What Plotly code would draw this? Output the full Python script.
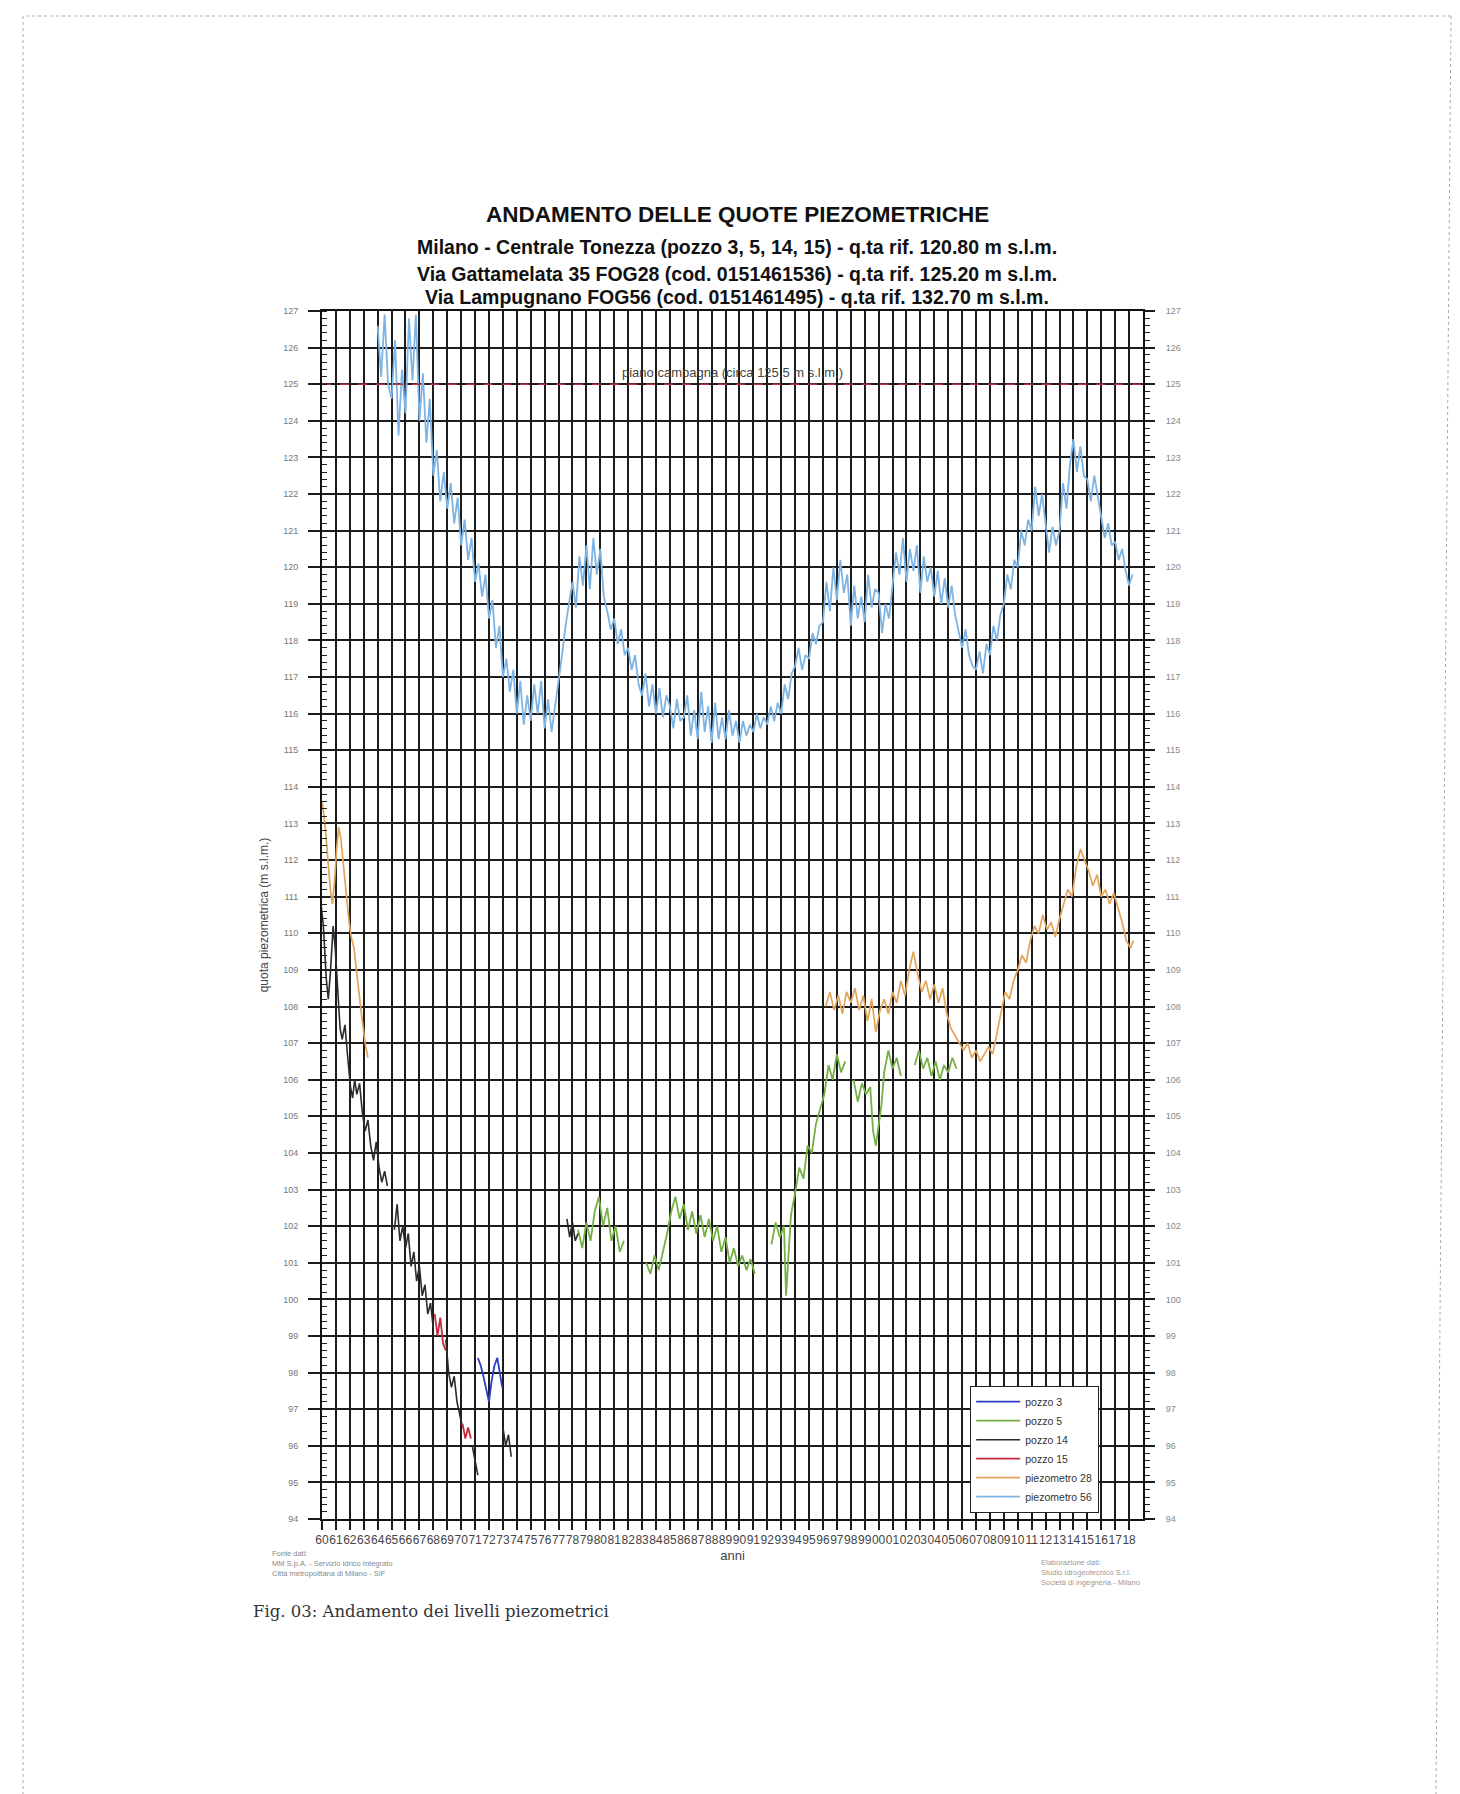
import plotly.graph_objects as go

# ---------------------------------------------------------------- data
YEARS = list(range(1960, 2019))
YEAR_LABELS = [f"{y % 100:02d}" for y in YEARS]
X_RANGE = [1960, 2019]
Y_RANGE = [94, 127]
PIANO_CAMPAGNA = 125.0

# piezometro 56 (FOG56), quarterly readings from 1964
P56_START = 1964.0
P56_STEP = 0.25
P56_LEVEL = [
    126.6, 125.2, 126.9, 125.0,  124.6, 126.2, 123.6, 125.4,
    124.2, 126.8, 125.1, 126.9,  124.0, 125.3, 123.4, 124.6,
    122.5, 123.2, 121.8, 122.6,  121.6, 122.3, 121.2, 121.9,
    120.6, 121.3, 120.2, 120.8,  119.6, 120.1, 119.2, 119.8,
    118.6, 119.1, 117.8, 118.4,  117.0, 117.5, 116.6, 117.2,
    116.0, 116.9, 115.7, 116.5,  115.8, 116.8, 116.0, 116.9,
    115.6, 116.4, 115.5, 116.2,  116.8, 117.6, 118.4, 119.0,
    119.6, 118.9, 120.3, 119.5,  120.6, 119.4, 120.8, 119.8,
    120.5, 119.2, 118.8, 118.3,  118.6, 117.9, 118.3, 117.6,
    117.8, 117.2, 117.6, 116.8,  116.5, 117.1, 116.2, 116.8,
    116.0, 116.7, 115.9, 116.5,  116.2, 115.6, 116.4, 115.8,
    115.9, 116.5, 115.4, 116.1,  115.3, 116.6, 115.5, 116.2,
    115.2, 116.3, 115.3, 115.9,  115.3, 116.1, 115.4, 115.8,
    115.2, 115.8, 115.4, 115.7,  115.5, 116.0, 115.6, 115.9,
    115.7, 116.2, 115.8, 116.3,  116.0, 116.8, 116.4, 117.1,
    117.3, 117.8, 117.2, 117.6,  117.5, 118.2, 117.9, 118.4,
    118.5, 119.6, 118.8, 120.0,  119.1, 120.2, 119.3, 119.8,
    118.4, 119.5, 118.6, 119.2,  118.5, 119.8, 118.9, 119.4,
    119.3, 118.2, 119.0, 118.6,  119.5, 120.4, 119.8, 120.8,
    119.6, 120.5, 119.9, 120.6,  119.3, 120.3, 119.6, 120.0,
    119.2, 119.9, 119.0, 119.7,  118.9, 119.5, 118.7, 118.2,
    117.8, 118.3, 117.6, 117.3,  117.2, 117.7, 117.1, 117.9,
    117.6, 118.4, 118.0, 118.7,  119.0, 119.8, 119.4, 120.2,
    120.0, 121.0, 120.6, 121.3,  121.0, 122.2, 121.4, 122.0,
    121.2, 120.4, 121.1, 120.6,  121.0, 122.3, 121.6, 122.8,
    123.5, 122.6, 123.3, 122.5,  122.4, 121.8, 122.5, 121.9,
    121.3, 120.8, 121.2, 120.6,  120.7, 120.2, 120.5, 119.9,
    119.5, 119.8,
]

# piezometro 28 (FOG28)
P28_YEAR = [
    1960.0, 1960.15, 1960.3, 1960.45, 1960.6, 1960.75, 1960.9, 1961.05,
    1961.2, 1961.35, 1961.5, 1961.65, 1961.8, 1961.95, 1962.1, 1962.3,
    1962.5, 1962.7, 1962.9, 1963.1, 1963.3, None,
    1996.2, 1996.5, 1996.8, 1997.1, 1997.4, 1997.7, 1998.0, 1998.3,
    1998.6, 1998.9, 1999.2, 1999.5, 1999.8, 2000.1, 2000.4, 2000.7,
    2001.0, 2001.3, 2001.6, 2001.9, 2002.2, 2002.5, 2002.8, 2003.1,
    2003.4, 2003.7, 2004.0, 2004.3, 2004.6, 2004.9, 2005.2, 2005.5,
    2005.8, 2006.1, 2006.4, 2006.7, 2007.0, 2007.3, 2007.6, 2007.9,
    2008.2, 2008.5, 2008.8, 2009.1, 2009.4, 2009.7, 2010.0, 2010.3,
    2010.6, 2010.9, 2011.2, 2011.5, 2011.8, 2012.1, 2012.4, 2012.7,
    2013.0, 2013.3, 2013.6, 2013.9, 2014.2, 2014.5, 2014.8, 2015.1,
    2015.4, 2015.7, 2016.0, 2016.3, 2016.6, 2016.9, 2017.2, 2017.5,
    2017.8, 2018.1, 2018.3,
]
P28_LEVEL = [
    113.6, 113.2, 112.6, 111.9, 111.2, 110.8, 111.4, 112.3,
    112.9, 112.6, 112.0, 111.4, 110.8, 110.3, 109.9, 109.6,
    108.9, 108.2, 107.6, 107.0, 106.6, None,
    108.0, 108.4, 107.9, 108.3, 107.8, 108.4, 108.1, 108.5,
    107.9, 108.3, 107.6, 108.2, 107.3, 107.9, 108.2, 107.8,
    108.4, 108.1, 108.7, 108.3, 109.0, 109.5, 108.9, 108.4,
    108.7, 108.2, 108.6, 108.1, 108.5, 107.8, 107.4, 107.2,
    107.0, 106.8, 107.0, 106.6, 106.8, 106.5, 106.7, 106.9,
    106.7, 107.3, 107.9, 108.4, 108.2, 108.7, 109.0, 109.4,
    109.2, 109.8, 110.2, 110.0, 110.5, 110.1, 110.3, 109.9,
    110.4, 110.8, 111.2, 111.0, 111.8, 112.3, 112.0, 111.7,
    111.3, 111.6, 111.0, 111.2, 110.8, 111.1, 110.7, 110.3,
    109.8, 109.6, 109.8,
]

# pozzo 14
POZZO14_YEAR = [
    1959.9, 1960.1, 1960.3, 1960.45, 1960.6, 1960.8, 1960.95, 1961.1,
    1961.3, 1961.45, 1961.65, 1961.85, 1962.05, 1962.2, 1962.35, 1962.5,
    1962.7, 1962.9, 1963.1, 1963.3, 1963.5, 1963.7, 1963.9, 1964.1,
    1964.3, 1964.5, 1964.7, None,
    1965.2, 1965.4, 1965.6, 1965.8, 1966.0, 1966.2, 1966.4, 1966.6,
    1966.8, 1967.0, 1967.2, 1967.4, 1967.6, 1967.8, 1968.0, None,
    1968.9, 1969.1, 1969.3, 1969.5, 1969.7, 1969.9, 1970.1, None,
    1970.8, 1971.0, 1971.2, None,
    1973.0, 1973.2, 1973.4, 1973.6, None,
    1977.6, 1977.8, 1978.0, 1978.2, 1978.4,
]
POZZO14_LEVEL = [
    110.9, 110.2, 108.8, 108.2, 108.9, 110.2, 109.6, 108.6,
    107.4, 107.1, 107.5, 106.6, 105.8, 105.5, 106.0, 105.6,
    105.9, 105.1, 104.6, 104.9, 104.2, 103.8, 104.3, 103.6,
    103.2, 103.5, 103.1, None,
    101.9, 102.6, 101.6, 102.0, 101.4, 101.8, 100.9, 101.3,
    100.5, 100.9, 100.1, 100.4, 99.6, 99.9, 99.2, None,
    98.9, 98.0, 97.6, 97.9, 97.2, 96.8, 96.5, None,
    96.0, 95.6, 95.2, None,
    96.5, 96.0, 96.3, 95.7, None,
    102.2, 101.7, 102.1, 101.6, 101.8,
]

# pozzo 15
POZZO15_YEAR = [1968.1, 1968.3, 1968.5, 1968.7, 1968.9, None,
                1970.1, 1970.3, 1970.5, 1970.7]
POZZO15_LEVEL = [99.6, 99.0, 99.5, 98.8, 98.6, None,
                 96.6, 96.2, 96.5, 96.2]

# pozzo 3
POZZO3_YEAR = [1971.2, 1971.4, 1971.6, 1971.8, 1972.0, 1972.2, 1972.4,
               1972.6, 1972.8, 1972.95]
POZZO3_LEVEL = [98.4, 98.2, 97.9, 97.5, 97.2, 97.8, 98.2, 98.4, 98.0, 97.6]

# pozzo 5
POZZO5_YEAR = [
    1978.4, 1978.7, 1979.0, 1979.3, 1979.6, 1979.9, 1980.2, 1980.5,
    1980.8, 1981.1, 1981.4, 1981.7, None,
    1983.3, 1983.6, 1983.9, 1984.2, 1984.5, 1984.8, 1985.1, 1985.4,
    1985.7, 1986.0, 1986.3, 1986.6, 1986.9, 1987.2, 1987.5, 1987.8,
    1988.1, 1988.4, 1988.7, 1989.0, 1989.3, 1989.6, 1989.9, 1990.2,
    1990.5, 1990.8, 1991.1, None,
    1992.3, 1992.6, 1992.9, 1993.2, 1993.35, 1993.5, 1993.7, 1994.0,
    1994.3, 1994.6, 1994.9, 1995.2, 1995.5, 1995.8, 1996.1, 1996.4,
    1996.7, 1997.0, 1997.3, 1997.6, None,
    1998.2, 1998.5, 1998.8, 1999.1, 1999.4, 1999.6, 1999.8, 2000.0,
    2000.2, 2000.4, 2000.7, 2001.0, 2001.3, 2001.6, None,
    2002.6, 2002.9, 2003.2, 2003.5, 2003.8, 2004.1, 2004.4, 2004.7,
    2005.0, 2005.3, 2005.6,
]
POZZO5_LEVEL = [
    101.9, 101.4, 102.1, 101.6, 102.4, 102.8, 102.0, 102.5,
    101.6, 102.0, 101.3, 101.6, None,
    101.0, 100.7, 101.2, 100.8, 101.3, 101.8, 102.4, 102.8,
    102.2, 102.6, 101.9, 102.4, 101.8, 102.3, 101.7, 102.2,
    101.6, 102.0, 101.3, 101.7, 101.0, 101.4, 100.9, 101.2,
    100.8, 101.1, 100.7, None,
    101.5, 102.1, 101.7, 102.0, 100.1, 101.2, 102.3, 102.9,
    103.6, 103.3, 104.2, 104.0, 104.8, 105.2, 105.6, 106.4,
    106.0, 106.7, 106.2, 106.5, None,
    106.0, 105.4, 105.9, 105.6, 105.8, 104.6, 104.2, 104.8,
    105.3, 106.2, 106.8, 106.3, 106.6, 106.1, None,
    106.4, 106.8, 106.3, 106.6, 106.1, 106.5, 106.0, 106.4,
    106.2, 106.6, 106.3,
]

# ---------------------------------------------------------------- figure
W, H = 1460, 1794
L, R, T, B = 322, 317, 311, 275
PW, PH = W - L - R, H - T - B


def px(xp):
    return (xp - L) / PW


def py(yp):
    return 1 - (yp - T) / PH


P56_YEAR = [P56_START + i * P56_STEP for i in range(len(P56_LEVEL))]

series = [
    ("pozzo 3", POZZO3_YEAR, POZZO3_LEVEL, "#2a3fc4", 1.8),
    ("pozzo 5", POZZO5_YEAR, POZZO5_LEVEL, "#74b043", 1.8),
    ("pozzo 14", POZZO14_YEAR, POZZO14_LEVEL, "#2b2b2b", 1.6),
    ("pozzo 15", POZZO15_YEAR, POZZO15_LEVEL, "#c8283e", 1.8),
    ("piezometro 28", P28_YEAR, P28_LEVEL, "#e2a45a", 1.7),
    ("piezometro 56", P56_YEAR, P56_LEVEL, "#7db4e3", 1.8),
]

fig = go.Figure()
for name, xs, ys, color, w in series:
    fig.add_trace(go.Scatter(
        x=xs, y=ys, mode="lines", name=name,
        line=dict(color=color, width=w), connectgaps=False,
    ))

# ground level reference line, on the right-hand axis
fig.add_trace(go.Scatter(
    x=X_RANGE, y=[PIANO_CAMPAGNA, PIANO_CAMPAGNA], mode="lines",
    line=dict(color="#b0333f", width=1.4, dash="dash"),
    yaxis="y2", showlegend=False, hoverinfo="skip",
))

grid = "#1c1c1c"
fig.update_layout(
    width=W, height=H,
    margin=dict(l=L, r=R, t=T, b=B, autoexpand=False),
    paper_bgcolor="white", plot_bgcolor="white",
    font=dict(family="Liberation Sans, Arial, sans-serif", color="#333"),
    xaxis=dict(
        range=X_RANGE, tickmode="array", tickvals=YEARS, ticktext=YEAR_LABELS,
        tickangle=0, tickfont=dict(size=12, color="#444"),
        showgrid=True, gridcolor=grid, gridwidth=1.5,
        ticks="outside", ticklen=9, tickwidth=1.5, tickcolor=grid,
        showline=True, linecolor="#111", linewidth=2, mirror=True,
        zeroline=False,
        title=dict(text="anni", font=dict(size=13, color="#444"), standoff=4),
    ),
    yaxis=dict(
        range=Y_RANGE, tickmode="linear", tick0=94, dtick=1,
        tickfont=dict(size=9, color="#777"), ticklabelstandoff=8,
        showgrid=True, gridcolor=grid, gridwidth=1.5,
        ticks="outside", ticklen=12, tickwidth=1.5, tickcolor=grid,
        minor=dict(dtick=0.2, ticks="inside", ticklen=5, tickwidth=1.2,
                   tickcolor="#222", showgrid=False),
        showline=True, linecolor="#111", linewidth=2, zeroline=False,
        title=dict(text="quota piezometrica (m s.l.m.)",
                   font=dict(size=12, color="#444"), standoff=12),
    ),
    yaxis2=dict(
        range=Y_RANGE, overlaying="y", side="right", tickmode="linear",
        tick0=94, dtick=1, tickfont=dict(size=9, color="#888"),
        ticklabelstandoff=9, showgrid=False,
        ticks="outside", ticklen=10, tickwidth=1.5, tickcolor=grid,
        minor=dict(dtick=0.2, ticks="outside", ticklen=5, tickwidth=1.2,
                   tickcolor="#222"),
        showline=True, linecolor="#111", linewidth=2, zeroline=False,
    ),
    legend=dict(
        x=px(970), y=py(1386), xanchor="left", yanchor="top",
        bgcolor="white", bordercolor="#222", borderwidth=1.2,
        font=dict(size=10.5, color="#333"), tracegroupgap=0,
        itemwidth=44, traceorder="normal",
    ),
)

ann = []
title_x = px(737)
ann.append(dict(text="<b>ANDAMENTO DELLE QUOTE PIEZOMETRICHE</b>",
                x=title_x, y=py(214), font=dict(size=22.5, color="#111")))
subs = [
    ("Milano - Centrale Tonezza (pozzo 3, 5, 14, 15) - q.ta rif. 120.80 m s.l.m.", 247),
    ("Via Gattamelata 35 FOG28 (cod. 0151461536) - q.ta rif. 125.20 m s.l.m.", 274),
    ("Via Lampugnano FOG56 (cod. 0151461495) - q.ta rif. 132.70 m s.l.m.", 297),
]
for text, yp in subs:
    ann.append(dict(text=f"<b>{text}</b>", x=title_x, y=py(yp),
                    font=dict(size=19.5, color="#111")))
for a in ann:
    a.update(xref="paper", yref="paper", showarrow=False,
             xanchor="center", yanchor="middle")

ann.append(dict(text="piano campagna (circa 125.5 m s.l.m.)",
                x=0.5, xref="paper", y=PIANO_CAMPAGNA, yref="y",
                yanchor="bottom", yshift=2, showarrow=False,
                font=dict(size=13, color="#444")))

ann.append(dict(
    text="Fonte dati:<br>MM S.p.A. - Servizio Idrico Integrato<br>"
         "Città metropolitana di Milano - SIF",
    x=px(270), y=py(1547), xref="paper", yref="paper", xanchor="left",
    yanchor="top", align="left", showarrow=False,
    font=dict(size=7.5, color="#888")))
ann.append(dict(
    text="Elaborazione dati:<br>Studio Idrogeotecnico S.r.l.<br>"
         "Società di ingegneria - Milano",
    x=px(1039), y=py(1556), xref="paper", yref="paper", xanchor="left",
    yanchor="top", align="left", showarrow=False,
    font=dict(size=7.5, color="#999")))
ann.append(dict(
    text="Fig. 03: Andamento dei livelli piezometrici",
    x=px(251), y=py(1611), xref="paper", yref="paper", xanchor="left",
    yanchor="middle", showarrow=False,
    font=dict(family="DejaVu Serif, serif", size=16.5, color="#333")))
fig.update_layout(annotations=ann)

# scanned page border
page = dict(type="line", xref="paper", yref="paper",
            line=dict(color="#aaa", width=1, dash="dot"))
fig.update_layout(shapes=[
    dict(page, x0=px(26), y0=py(16), x1=px(1451), y1=py(16)),
    dict(page, x0=px(23), y0=py(16), x1=px(23), y1=py(1794)),
    dict(page, x0=px(1451), y0=py(16), x1=px(1436), y1=py(1794)),
])

fig.write_html("out.html")
